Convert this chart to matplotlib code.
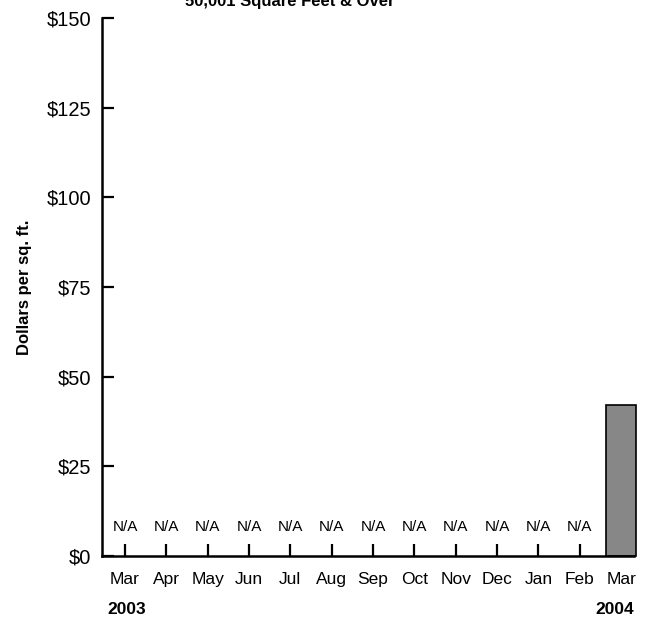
import numpy as np
import matplotlib.pyplot as plt

months = ['Mar', 'Apr', 'May', 'Jun', 'Jul', 'Aug', 'Sep', 'Oct', 'Nov', 'Dec', 'Jan', 'Feb', 'Mar']
values = [np.nan] * 12 + [42]
yticks = [0, 25, 50, 75, 100, 125, 150]
ytick_labels = ['$0', '$25', '$50', '$75', '$100', '$125', '$150']

plt.rcParams['font.family'] = ['Liberation Sans', 'DejaVu Sans']

fig = plt.figure(figsize=(6.49, 6.17), dpi=100)
ax = fig.add_axes([102/649, 61/617, 532/649, 538/617])

x = np.arange(len(months))
vals = np.array(values, dtype=float)
has_data = ~np.isnan(vals)
ax.bar(x[has_data], vals[has_data], width=0.72, color='#878787', edgecolor='black',
       linewidth=1.2, clip_on=False)

# N/A labels where there is no data
for xi, v in zip(x, vals):
    if np.isnan(v):
        ax.text(xi, 6, 'N/A', ha='center', va='bottom', fontsize=11)

ax.set_xlim(-0.556, 12.31)
ax.set_ylim(0, 150)
ax.set_yticks(yticks)
ax.set_yticklabels(ytick_labels, fontsize=14.5)
ax.set_xticks(x[:-1])
ax.set_xticklabels([])
ax.tick_params(axis='both', direction='in', length=8.5, width=1.6)
ax.tick_params(axis='y', pad=8)

for xi, m in zip(x, months):
    ax.text(xi, -0.03, m, transform=ax.get_xaxis_transform(), ha='center', va='top', fontsize=12.5)

ax.text(0.01, -0.085, '2003', transform=ax.transAxes, ha='left', va='top', fontsize=12.5, fontweight='bold')
ax.text(1.0, -0.085, '2004', transform=ax.transAxes, ha='right', va='top', fontsize=12.5, fontweight='bold')

for s in ['top', 'right']:
    ax.spines[s].set_visible(False)
for s in ['left', 'bottom']:
    ax.spines[s].set_linewidth(1.8)

ax.set_ylabel('Dollars per sq. ft.', fontsize=12, fontweight='bold', labelpad=10)

fig.text(290/649, 1 - 6/617, '50,001 Square Feet & Over', ha='center', va='baseline',
         fontsize=12, fontweight='bold')

fig.savefig('out.png', dpi=100)
